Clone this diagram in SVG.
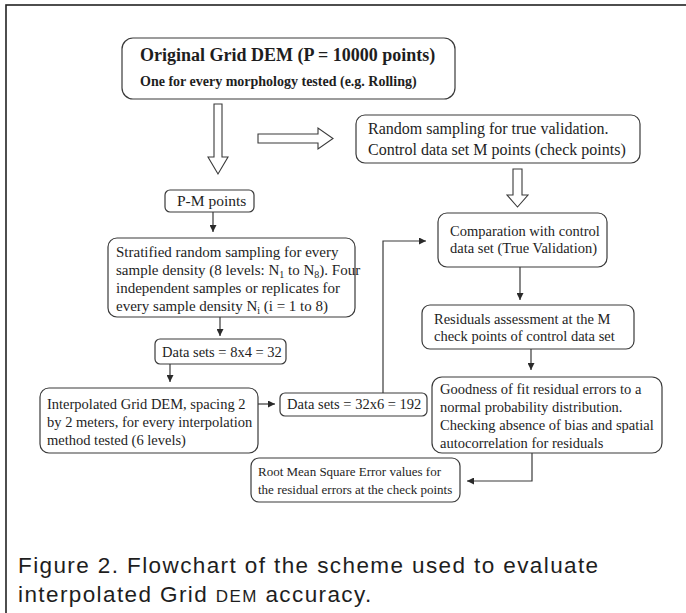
<svg xmlns="http://www.w3.org/2000/svg" width="686" height="613" viewBox="0 0 686 613">
<style>
  .box { fill: #fff; stroke: #3a3a3a; stroke-width: 1.2; }
  .t { font-family: "Liberation Serif", "Times New Roman", serif; fill: #1e1e1e; }
  .b { font-weight: bold; }
  .c { stroke: #3a3a3a; stroke-width: 1.2; fill: none; }
  .hol { fill: #fff; stroke: #3a3a3a; stroke-width: 1.1; }
  .cap { font-family: "Liberation Sans", Arial, sans-serif; font-size: 22.5px; fill: #1e1e1e; letter-spacing: 1.4px; }
</style>
<defs>
  <marker id="ah" viewBox="0 0 10 10" refX="10" refY="5" markerWidth="7" markerHeight="7" markerUnits="userSpaceOnUse" orient="auto">
    <path d="M0,0 L10,5 L0,10 Z" fill="#2a2a2a"/>
  </marker>
</defs>
<rect width="686" height="613" fill="#fff"/>
<rect x="6" y="5" width="700" height="640" fill="none" stroke="#222" stroke-width="1.6"/>

<g id="connectors">
  <polygon class="hol" points="214,104 222,104 222,157 228,157 218,174 208,157 214,157"/>
  <polygon class="hol" points="258,134 318,134 318,128 333,138.5 318,149 318,143 258,143"/>
  <polygon class="hol" points="513,169 522,169 522,195 528,195 517.5,207 507,195 513,195"/>
  <line class="c" x1="213" y1="212" x2="213" y2="232" marker-end="url(#ah)"/>
  <line class="c" x1="220" y1="317" x2="220" y2="336" marker-end="url(#ah)"/>
  <line class="c" x1="170" y1="364" x2="170" y2="382" marker-end="url(#ah)"/>
  <line class="c" x1="258" y1="404" x2="275" y2="404" marker-end="url(#ah)"/>
  <polyline class="c" points="383,393 383,241 426,241" marker-end="url(#ah)"/>
  <line class="c" x1="520" y1="267" x2="520" y2="300" marker-end="url(#ah)"/>
  <line class="c" x1="531" y1="349" x2="531" y2="370" marker-end="url(#ah)"/>
  <polyline class="c" points="532,453 532,481 467,481" marker-end="url(#ah)"/>
</g>

<g id="original">
  <rect class="box" x="122" y="38" width="333" height="61" rx="11"/>
  <text class="t b" x="140" y="61" font-size="18">Original Grid DEM (P = 10000 points)</text>
  <text class="t b" x="140" y="86" font-size="14">One for every morphology tested (e.g. Rolling)</text>
</g>

<g id="random">
  <rect class="box" x="356" y="115" width="284" height="48" rx="9"/>
  <text class="t" x="368" y="134" font-size="16">Random sampling for true validation.</text>
  <text class="t" x="368" y="155" font-size="16">Control data set M points (check points)</text>
</g>

<g id="pm">
  <rect class="box" x="165" y="190" width="89" height="22" rx="5"/>
  <text class="t" x="177" y="206" font-size="15.5">P-M points</text>
</g>

<g id="stratified">
  <rect class="box" x="108" y="238" width="247" height="79" rx="9"/>
  <text class="t" x="116" y="257" font-size="15">Stratified random sampling for every</text>
  <text class="t" x="116" y="275" font-size="15">sample density (8 levels: N<tspan font-size="10" dy="3">1</tspan><tspan dy="-3"> to N</tspan><tspan font-size="10" dy="3">8</tspan><tspan dy="-3">). Four</tspan></text>
  <text class="t" x="116" y="293" font-size="15">independent samples or replicates for</text>
  <text class="t" x="116" y="311" font-size="15">every sample density N<tspan font-size="10" dy="3">i</tspan><tspan dy="-3"> (i = 1 to 8)</tspan></text>
</g>

<g id="ds32">
  <rect class="box" x="155" y="339" width="131" height="25" rx="5"/>
  <text class="t" x="162" y="357" font-size="14.5">Data sets = 8x4 = 32</text>
</g>

<g id="interp">
  <rect class="box" x="40" y="388" width="218" height="65" rx="9"/>
  <text class="t" x="47" y="409" font-size="14.5">Interpolated Grid DEM, spacing 2</text>
  <text class="t" x="47" y="427" font-size="14.5">by 2 meters, for every interpolation</text>
  <text class="t" x="47" y="445" font-size="14.5">method tested (6 levels)</text>
</g>

<g id="ds192">
  <rect class="box" x="280" y="393" width="147" height="23" rx="5"/>
  <text class="t" x="287" y="409" font-size="14.5">Data sets = 32x6 = 192</text>
</g>

<g id="comparation">
  <rect class="box" x="438" y="213" width="169" height="54" rx="9"/>
  <text class="t" x="450" y="236" font-size="14.5">Comparation with control</text>
  <text class="t" x="450" y="253" font-size="14.5">data set (True Validation)</text>
</g>

<g id="residuals">
  <rect class="box" x="422" y="305" width="212" height="44" rx="8"/>
  <text class="t" x="434" y="324" font-size="14.5">Residuals assessment at the M</text>
  <text class="t" x="434" y="341" font-size="14.5">check points of control data set</text>
</g>

<g id="goodness">
  <rect class="box" x="432" y="377" width="230" height="76" rx="10"/>
  <text class="t" x="440" y="394" font-size="14.5">Goodness of fit residual errors to a</text>
  <text class="t" x="440" y="412" font-size="14.5">normal probability distribution.</text>
  <text class="t" x="440" y="430" font-size="14.5">Checking absence of bias and spatial</text>
  <text class="t" x="440" y="448" font-size="14.5">autocorrelation for residuals</text>
</g>

<g id="rmse">
  <rect class="box" x="251" y="458" width="209" height="44" rx="8"/>
  <text class="t" x="258" y="476" font-size="13">Root Mean Square Error values for</text>
  <text class="t" x="258" y="494" font-size="13">the residual errors at the check points</text>
</g>

<g id="caption">
  <text class="cap" x="18" y="573">Figure 2. Flowchart of the scheme used to evaluate</text>
  <text class="cap" x="18" y="602">interpolated Grid <tspan font-size="17">DEM</tspan> accuracy.</text>
</g>
</svg>
